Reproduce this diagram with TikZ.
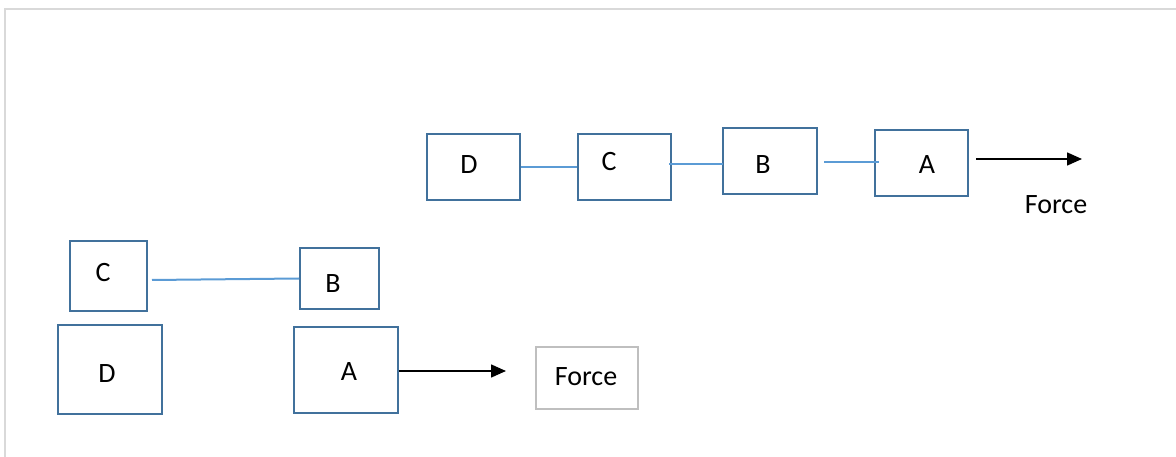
\documentclass[tikz,border=0pt]{standalone}
\usepackage{fontspec}
\setmainfont{Carlito}
\usetikzlibrary{arrows.meta}
\definecolor{boxblue}{HTML}{41719C}
\definecolor{linkblue}{HTML}{5B9BD5}
\definecolor{framegray}{HTML}{D9D9D9}
\definecolor{forcegray}{HTML}{BFBFBF}
\tikzset{
  blk/.style={draw=boxblue, line width=2pt, inner sep=0pt, fill=none},
  lbl/.style={inner sep=0pt, font=\fontsize{28}{32}\selectfont},
  link/.style={draw=linkblue, line width=2pt},
  force/.style={draw=black, line width=1.6pt, -{Triangle[length=15pt,width=13pt]}}
}
\begin{document}
\begin{tikzpicture}[x=1pt,y=-1pt]
\useasboundingbox (0,0) rectangle (1176,457);
\draw[framegray, line width=2pt] (5,457) -- (5,9) -- (1176,9);
% top row
\node[blk, minimum width=93pt, minimum height=66pt] (tD) at (473.5,167) {};
\node[blk, minimum width=93pt, minimum height=66pt] (tC) at (624.5,167) {};
\node[blk, minimum width=94pt, minimum height=66pt] (tB) at (770,161) {};
\node[blk, minimum width=93pt, minimum height=66pt] (tA) at (921.5,163) {};
\node[lbl] (tDl) at (469,165) {D};
\node[lbl] (tCl) at (609,162) {C};
\node[lbl] (tBl) at (763,165) {B};
\node[lbl] (tAl) at (927,165) {A};
\draw[link] (tD.east) -- (tC.west);
\draw[link] ([shift={(-3,-3)}]tC.east) -- ([shift={(1,3)}]tB.west);
\draw[link] ([shift={(6,1)}]tB.east) -- ([shift={(5,-1)}]tA.west);
\coordinate (tF) at (1082,159);
\draw[force] ([shift={(7,-4)}]tA.east) -- (tF);
\node[lbl] (tFl) at (1056,205) {Force};
% bottom left
\node[blk, minimum width=77pt, minimum height=70pt] (bC) at (108.5,276) {};
\node[blk, minimum width=79pt, minimum height=61pt] (bB) at (339.5,278.5) {};
\node[blk, minimum width=104pt, minimum height=89pt] (bD) at (110,369.5) {};
\node[blk, minimum width=104pt, minimum height=86pt] (bA) at (346,370) {};
\node[lbl] (bCl) at (103,273) {C};
\node[lbl] (bBl) at (333,284) {B};
\node[lbl] (bDl) at (107,374) {D};
\node[lbl] (bAl) at (349,372) {A};
\draw[link] ([shift={(4,4)}]bC.east) -- (bB.west);
\coordinate (bF) at (506,371);
\draw[force] ([shift={(0,1)}]bA.east) -- (bF);
\node[draw=forcegray, line width=1.6pt, minimum width=102pt, minimum height=62pt, inner sep=0pt] (bFb) at (587,378) {};
\node[lbl] (bFl) at (586,377) {Force};
\end{tikzpicture}
\end{document}
